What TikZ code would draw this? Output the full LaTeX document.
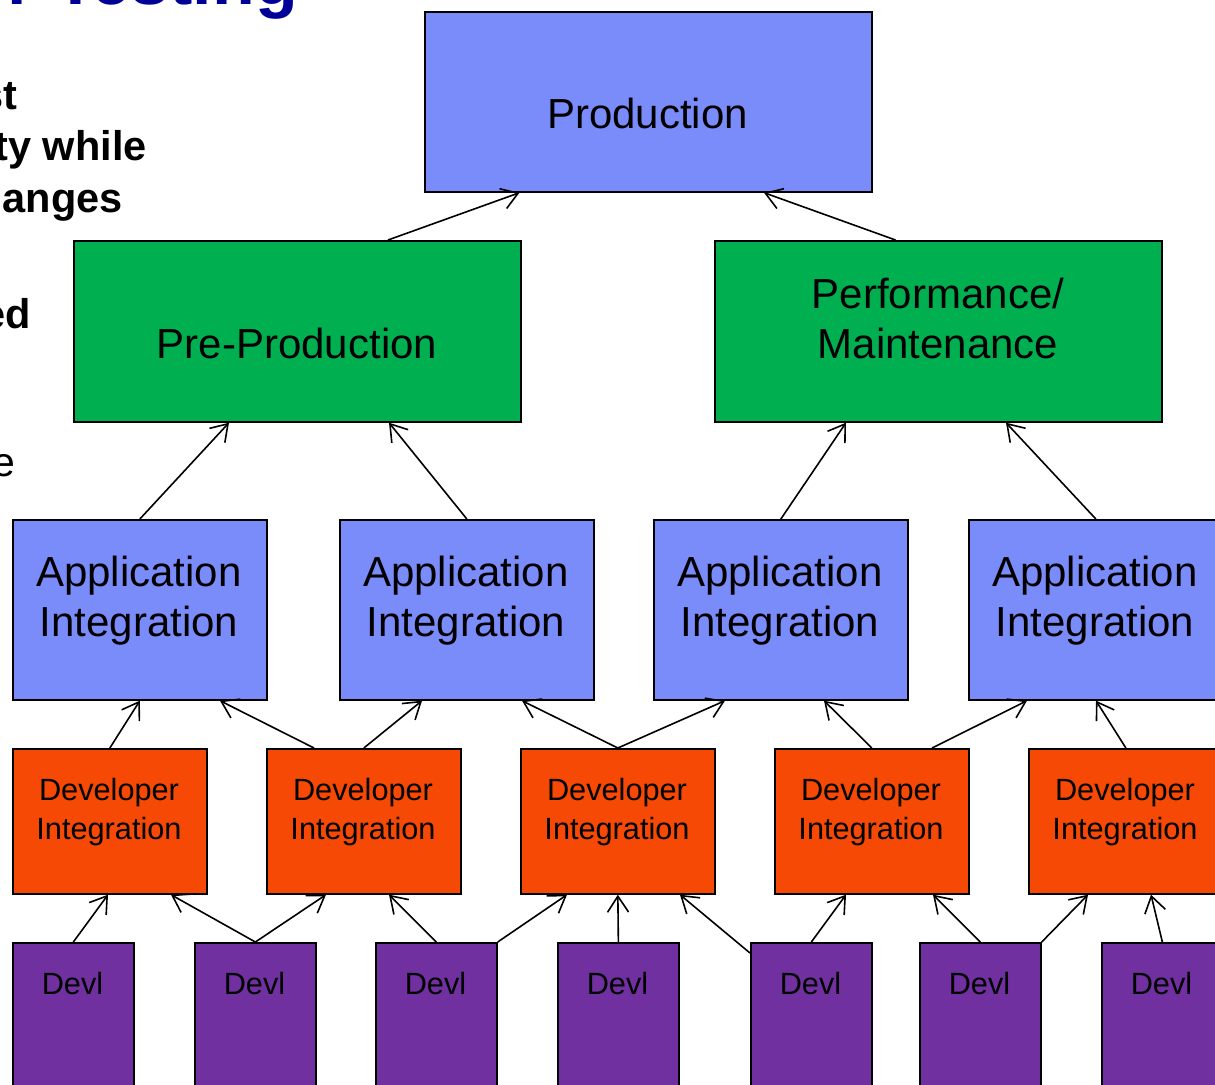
\documentclass[tikz,border=0pt]{standalone}
\usepackage{fontspec}
\setmainfont{Liberation Sans}
\usetikzlibrary{arrows.meta}
\definecolor{pblue}{RGB}{122,139,250}
\definecolor{pgreen}{RGB}{0,176,80}
\definecolor{porange}{RGB}{245,73,5}
\definecolor{ppurple}{RGB}{112,48,160}
\definecolor{tblue}{RGB}{0,0,153}
\newcommand{\mytwo}[2]{\begin{tabular}[b]{@{}c@{}}#1\\#2\end{tabular}}
\begin{document}
\begin{tikzpicture}[x=1pt,y=-1pt,
 box/.style={draw=black, line width=1.7pt, inner sep=0pt, anchor=north west, rectangle},
 big/.style={font=\fontsize{42}{50}\selectfont, inner sep=0pt, anchor=base},
 mid/.style={font=\fontsize{30.7}{38.3}\selectfont, inner sep=0pt, anchor=base},
 side/.style={font=\fontsize{41.5}{51}\selectfont\bfseries, inner sep=0pt, anchor=base east},
 arr/.style={line width=1.6pt, -{Straight Barb[length=16pt,width=21pt]}}
]
\useasboundingbox (0,0) rectangle (1215,1084);
\clip (0,0) rectangle (1215,1084);
\fill[white] (0,0) rectangle (1215,1084);

% title and side fragments
\node[font=\fontsize{70}{80}\selectfont\bfseries, text=tblue, inner sep=0pt, anchor=base east] (title) at (298,5) {r Testing};
\node[side] (s1) at (18,109) {st};
\node[side] (s2) at (147,160) {ty while};
\node[side] (s3) at (123,212) {anges};
\node[side] (s4) at (31,328) {ed};
\node[side, font=\fontsize{41}{51}\selectfont] (s5) at (16,476) {e};

% boxes
\node[box, fill=pblue, minimum width=447pt, minimum height=180pt] (prod) at (424,11) {};
\node[box, fill=pgreen, minimum width=447pt, minimum height=181pt] (pre) at (73,240) {};
\node[box, fill=pgreen, minimum width=447pt, minimum height=181pt] (perf) at (714,240) {};

\node[box, fill=pblue, minimum width=254pt, minimum height=180pt] (app1) at (12,519) {};
\node[box, fill=pblue, minimum width=254pt, minimum height=180pt] (app2) at (339,519) {};
\node[box, fill=pblue, minimum width=254pt, minimum height=180pt] (app3) at (653,519) {};
\node[box, fill=pblue, minimum width=254pt, minimum height=180pt] (app4) at (968,519) {};

\node[box, fill=porange, minimum width=194pt, minimum height=145pt] (dev1) at (12,748) {};
\node[box, fill=porange, minimum width=194pt, minimum height=145pt] (dev2) at (266,748) {};
\node[box, fill=porange, minimum width=194pt, minimum height=145pt] (dev3) at (520,748) {};
\node[box, fill=porange, minimum width=194pt, minimum height=145pt] (dev4) at (774,748) {};
\node[box, fill=porange, minimum width=194pt, minimum height=145pt] (dev5) at (1028,748) {};

\node[box, fill=ppurple, minimum width=121pt, minimum height=160pt] (devl1) at (12,942) {};
\node[box, fill=ppurple, minimum width=121pt, minimum height=160pt] (devl2) at (194,942) {};
\node[box, fill=ppurple, minimum width=121pt, minimum height=160pt] (devl3) at (375,942) {};
\node[box, fill=ppurple, minimum width=121pt, minimum height=160pt] (devl4) at (557,942) {};
\node[box, fill=ppurple, minimum width=121pt, minimum height=160pt] (devl5) at (750,942) {};
\node[box, fill=ppurple, minimum width=121pt, minimum height=160pt] (devl6) at (919,942) {};
\node[box, fill=ppurple, minimum width=121pt, minimum height=160pt] (devl7) at (1101,942) {};

% labels
\node[big] (prodt) at (647.5,128) {Production};
\node[big] (pret) at (297,358) {Pre-Production};
\node[big] (perft) at (938,358) {\mytwo{Performance/}{Maintenance}};
\node[big] (app1t) at (139,636) {\mytwo{Application}{Integration}};
\node[big] (app2t) at (466,636) {\mytwo{Application}{Integration}};
\node[big] (app3t) at (780,636) {\mytwo{Application}{Integration}};
\node[big] (app4t) at (1095,636) {\mytwo{Application}{Integration}};
\node[mid] (dev1t) at (109,839) {\mytwo{Developer}{Integration}};
\node[mid] (dev2t) at (363,839) {\mytwo{Developer}{Integration}};
\node[mid] (dev3t) at (617,839) {\mytwo{Developer}{Integration}};
\node[mid] (dev4t) at (871,839) {\mytwo{Developer}{Integration}};
\node[mid] (dev5t) at (1125,839) {\mytwo{Developer}{Integration}};
\node[mid] (devl1t) at (72.5,994) {Devl};
\node[mid] (devl2t) at (254.5,994) {Devl};
\node[mid] (devl3t) at (435.5,994) {Devl};
\node[mid] (devl4t) at (617.5,994) {Devl};
\node[mid] (devl5t) at (810.5,994) {Devl};
\node[mid] (devl6t) at (979.5,994) {Devl};
\node[mid] (devl7t) at (1161.5,994) {Devl};

% connectors
\draw[arr] ([xshift=315pt]pre.north west) -- ([xshift=95.5pt]prod.south west);
\draw[arr] ([xshift=181.5pt]perf.north west) -- ([xshift=340pt]prod.south west);
\draw[arr] (app1.north) -- ([xshift=156pt]pre.south west);
\draw[arr] (app2.north) -- ([xshift=316pt]pre.south west);
\draw[arr] (app3.north) -- ([xshift=132pt]perf.south west);
\draw[arr] (app4.north) -- ([xshift=292pt]perf.south west);

\draw[arr] (dev1.north) -- (app1.south);
\draw[arr] ([xshift=48pt]dev2.north west) -- ([xshift=208pt]app1.south west);
\draw[arr] (dev2.north) -- ([xshift=83pt]app2.south west);
\draw[arr] (dev3.north) -- ([xshift=183pt]app2.south west);
\draw[arr] (dev3.north) -- ([xshift=72pt]app3.south west);
\draw[arr] (dev4.north) -- ([xshift=171pt]app3.south west);
\draw[arr] ([xshift=158pt]dev4.north west) -- ([xshift=59pt]app4.south west);
\draw[arr] (dev5.north) -- ([xshift=128pt]app4.south west);

\draw[arr] (devl1.north) -- ([xshift=96pt]dev1.south west);
\draw[arr] (devl2.north) -- ([xshift=159pt]dev1.south west);
\draw[arr] (devl2.north) -- ([xshift=60pt]dev2.south west);
\draw[arr] (devl3.north) -- ([xshift=123pt]dev2.south west);
\draw[arr] (devl3.north east) -- ([xshift=47pt]dev3.south west);
\draw[arr] (devl4.north) -- (dev3.south);
\draw[arr] ([yshift=-11pt]devl5.north west) -- ([xshift=160pt]dev3.south west);
\draw[arr] (devl5.north) -- ([xshift=72pt]dev4.south west);
\draw[arr] (devl6.north) -- ([xshift=159pt]dev4.south west);
\draw[arr] (devl6.north east) -- ([xshift=60pt]dev5.south west);
\draw[arr] (devl7.north) -- ([xshift=123pt]dev5.south west);
\end{tikzpicture}
\end{document}
